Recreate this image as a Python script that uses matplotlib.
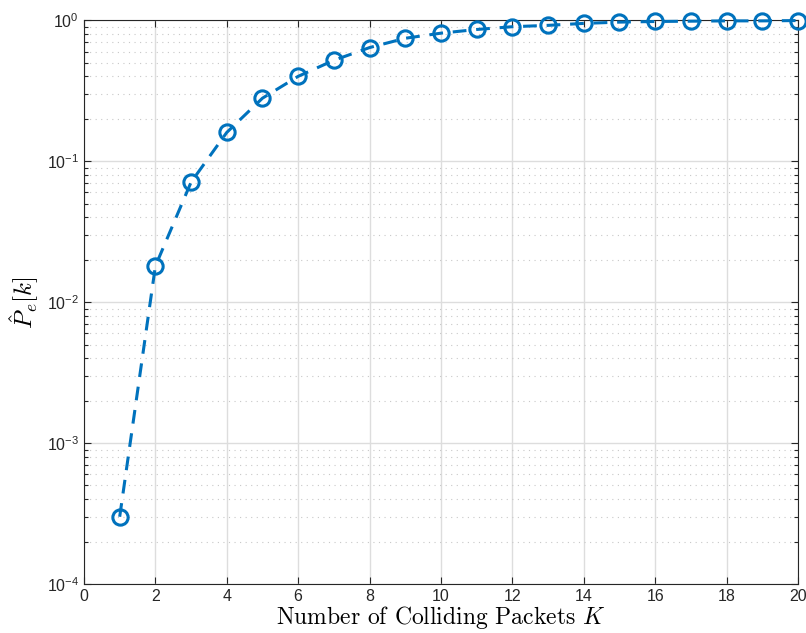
import numpy as np
import matplotlib.pyplot as plt
from matplotlib.ticker import LogLocator, NullFormatter

# data
K = np.arange(1, 21)
Pe = [3.0e-4, 0.018, 0.071, 0.16, 0.28, 0.40, 0.52, 0.64, 0.745, 0.81,
      0.86, 0.90, 0.92, 0.95, 0.97, 0.98, 0.985, 0.99, 0.99, 0.995]
xticks = np.arange(0, 21, 2)

plt.rcParams['mathtext.fontset'] = 'cm'
plt.rcParams['mathtext.default'] = 'regular'
plt.rcParams['font.family'] = ['Liberation Sans', 'DejaVu Sans']

fig = plt.figure(figsize=(8.06, 6.33), dpi=100)
ax = fig.add_axes([0.1042, 0.0774, 0.8858, 0.8906])

ax.semilogy(K, Pe, linestyle='--', color='#0072BD', linewidth=2.2,
            marker='o', markersize=11, markerfacecolor='none',
            markeredgewidth=2.2, dashes=(4.5, 3.2), clip_on=False, zorder=3)

ax.set_xlim(0, 20)
ax.set_ylim(1e-4, 1)
ax.set_xticks(xticks)
ax.yaxis.set_major_locator(LogLocator(base=10, numticks=10))
ax.yaxis.set_minor_locator(LogLocator(base=10, subs=np.arange(2, 10), numticks=20))
ax.yaxis.set_minor_formatter(NullFormatter())

ax.grid(True, which='major', color='#dddddd', linewidth=1, linestyle='-')
ax.grid(True, which='minor', axis='y', color='#c8c8c8', linewidth=0.8,
        linestyle=(0, (1, 4)))
ax.set_axisbelow(True)

ax.tick_params(which='both', direction='in', top=True, right=True,
               colors='#262626', labelsize=11.5, width=0.8)
ax.tick_params(which='major', length=5)
ax.tick_params(which='minor', length=3)
for s in ax.spines.values():
    s.set_color('#262626')
    s.set_linewidth(0.8)

ax.set_xlabel(r'Number of Colliding Packets $\mathit{K}$', fontsize=17,
              family='cmr10', labelpad=0)
ax.set_ylabel(r'$\mathit{\hat{P}_e[k]}$', fontsize=18, labelpad=4)

fig.savefig('out.png', dpi=100)
